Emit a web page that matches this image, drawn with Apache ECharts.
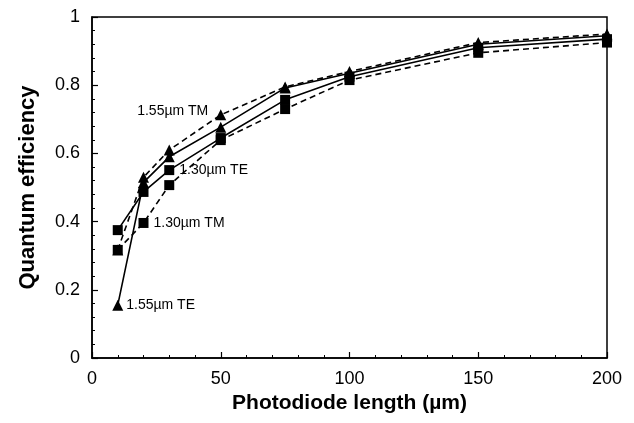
<!DOCTYPE html>
<html>
<head>
<meta charset="utf-8">
<script src="https://cdn.jsdelivr.net/npm/echarts@6/dist/echarts.min.js"></script>
<style>
html,body{margin:0;padding:0;background:#fff;}
#c{width:634px;height:423px;}
</style>
</head>
<body>
<div id="c"></div>
<script>
// Data
const lengths = [10, 20, 30, 50, 75, 100, 150, 200];
const te155 = [0.155, 0.515, 0.59, 0.677, 0.792, 0.835, 0.92, 0.945];
const tm155 = [0.317, 0.53, 0.61, 0.713, 0.795, 0.84, 0.925, 0.95];
const te130 = [0.375, 0.487, 0.551, 0.645, 0.757, 0.825, 0.91, 0.935];
const tm130 = [0.317, 0.396, 0.507, 0.639, 0.73, 0.815, 0.895, 0.925];
const seriesNames = ['1.55µm TE', '1.55µm TM', '1.30µm TE', '1.30µm TM'];
const labelIndex = [0, 3, 2, 1];
const xTicks = [0, 50, 100, 150, 200];
const yTicks = [0, 0.2, 0.4, 0.6, 0.8, 1];

const FONT = '"Liberation Sans", Arial, sans-serif';

function build(name, vals, symbol, dashed, li, pos, offset) {
  const data = lengths.map((x, i) => {
    const item = { value: [x, vals[i]] };
    if (i === li) {
      item.label = {
        show: true, position: pos, offset: offset, formatter: name,
        color: '#000', fontSize: 14, fontFamily: FONT
      };
    }
    return item;
  });
  return {
    name: name, type: 'line', data: data,
    symbol: symbol, symbolSize: symbol === 'rect' ? 10 : 11,
    itemStyle: { color: '#000' },
    lineStyle: { color: '#000', width: 1.6, type: dashed ? [6, 4] : 'solid' },
    label: { show: false },
    animation: false
  };
}

const chart = echarts.init(document.getElementById('c'));
chart.setOption({
  backgroundColor: '#fff',
  animation: false,
  grid: { left: 92, right: 27, top: 17, bottom: 65, show: true, borderColor: '#000', borderWidth: 1.5, backgroundColor: 'transparent' },
  xAxis: {
    type: 'value', min: 0, max: 200, interval: 50,
    name: 'Photodiode length (µm)', nameLocation: 'middle', nameGap: 33,
    nameTextStyle: { fontSize: 21, fontWeight: 'bold', color: '#000', fontFamily: FONT },
    axisLine: { show: true, lineStyle: { color: '#000', width: 1.5 } },
    axisTick: { show: true, inside: true, length: 6, lineStyle: { color: '#000', width: 1.2 } },
    minorTick: { show: true, splitNumber: 5, length: 3, lineStyle: { color: '#000', width: 1 } },
    splitLine: { show: false },
    axisLabel: { fontSize: 18, color: '#000', margin: 12, fontFamily: FONT,
      formatter: v => xTicks.includes(v) ? String(v) : '' }
  },
  yAxis: {
    type: 'value', min: 0, max: 1, interval: 0.2,
    name: 'Quantum efficiency', nameLocation: 'middle', nameGap: 53,
    nameTextStyle: { fontSize: 22, fontWeight: 'bold', color: '#000', fontFamily: FONT },
    axisLine: { show: true, lineStyle: { color: '#000', width: 1.5 } },
    axisTick: { show: true, inside: true, length: 6, lineStyle: { color: '#000', width: 1.2 } },
    minorTick: { show: true, splitNumber: 5, length: 3, lineStyle: { color: '#000', width: 1 } },
    splitLine: { show: false },
    axisLabel: { fontSize: 18, color: '#000', margin: 12, fontFamily: FONT,
      formatter: v => { const t = yTicks.find(k => Math.abs(k - v) < 1e-9); return t === undefined ? '' : String(t); } }
  },
  series: [
    build(seriesNames[1], tm155, 'triangle', true, labelIndex[1], 'left', [-2, -4]),
    build(seriesNames[3], tm130, 'rect', true, labelIndex[3], 'right', [0, 0]),
    build(seriesNames[2], te130, 'rect', false, labelIndex[2], 'right', [0, 0]),
    build(seriesNames[0], te155, 'triangle', false, labelIndex[0], 'right', [-2, 0])
  ]
});
</script>
</body>
</html>
